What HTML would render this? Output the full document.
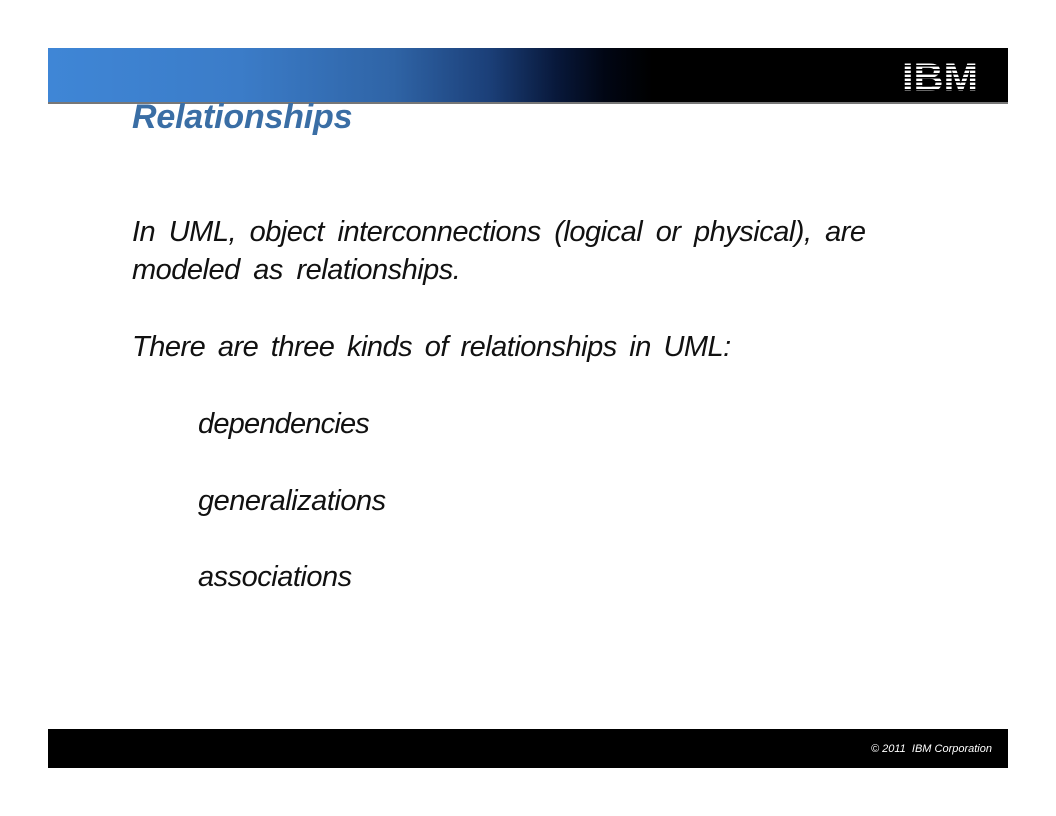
<!DOCTYPE html>
<html><head><meta charset="utf-8"><style>
body{margin:0;width:1056px;height:816px;background:#fff;position:relative;overflow:hidden;font-family:"Liberation Sans",sans-serif}
.abs{position:absolute}
#banner{left:48px;top:48px;width:960px;height:54px;background:linear-gradient(90deg,#3f86d6 0%,#3b7cc8 20%,#2f64a6 36%,#1b3f78 46%,#08183a 53%,#010614 58%,#000 63%,#000 100%)}
#rule{left:48px;top:102px;width:960px;height:2px;background:#777}
#title{left:132px;top:98px;font-size:34px;font-weight:bold;font-style:italic;color:#3a6ea5;letter-spacing:-0.2px;z-index:2}
.t{font-style:italic;font-size:29px;color:#111;letter-spacing:-0.5px;word-spacing:6px;white-space:nowrap}
#footer{left:48px;top:729px;width:960px;height:39px;background:#000}
#copy{right:64px;top:743px;color:#fff;font-size:11px;font-style:italic}
</style></head><body>
<div id="banner" class="abs"></div>
<svg class="abs" style="left:902px;top:60px" width="78" height="34">
<text x="0" y="31" textLength="76" lengthAdjust="spacingAndGlyphs" font-family="Liberation Sans,sans-serif" font-weight="bold" font-size="40" fill="#fff">IBM</text>
<g fill="#000"><rect x="0" y="5" width="78" height="1.6"/><rect x="0" y="9" width="78" height="1.6"/><rect x="0" y="13" width="78" height="1.6"/><rect x="0" y="17" width="78" height="1.6"/><rect x="0" y="21" width="78" height="1.6"/><rect x="0" y="25" width="78" height="1.6"/><rect x="0" y="29" width="78" height="1.6"/></g>
</svg>
<div id="rule" class="abs"></div>
<div id="title" class="abs">Relationships</div>
<div class="abs t" style="left:132px;top:216px">In UML, object interconnections (logical or physical), are</div>
<div class="abs t" style="left:132px;top:254px">modeled as relationships.</div>
<div class="abs t" style="left:132px;top:331px;word-spacing:5px">There are three kinds of relationships in UML:</div>
<div class="abs t" style="left:198px;top:408px;letter-spacing:-0.8px">dependencies</div>
<div class="abs t" style="left:198px;top:485px">generalizations</div>
<div class="abs t" style="left:198px;top:561px">associations</div>
<div id="footer" class="abs"></div>
<div id="copy" class="abs">© 2011&nbsp; IBM Corporation</div>
</body></html>
